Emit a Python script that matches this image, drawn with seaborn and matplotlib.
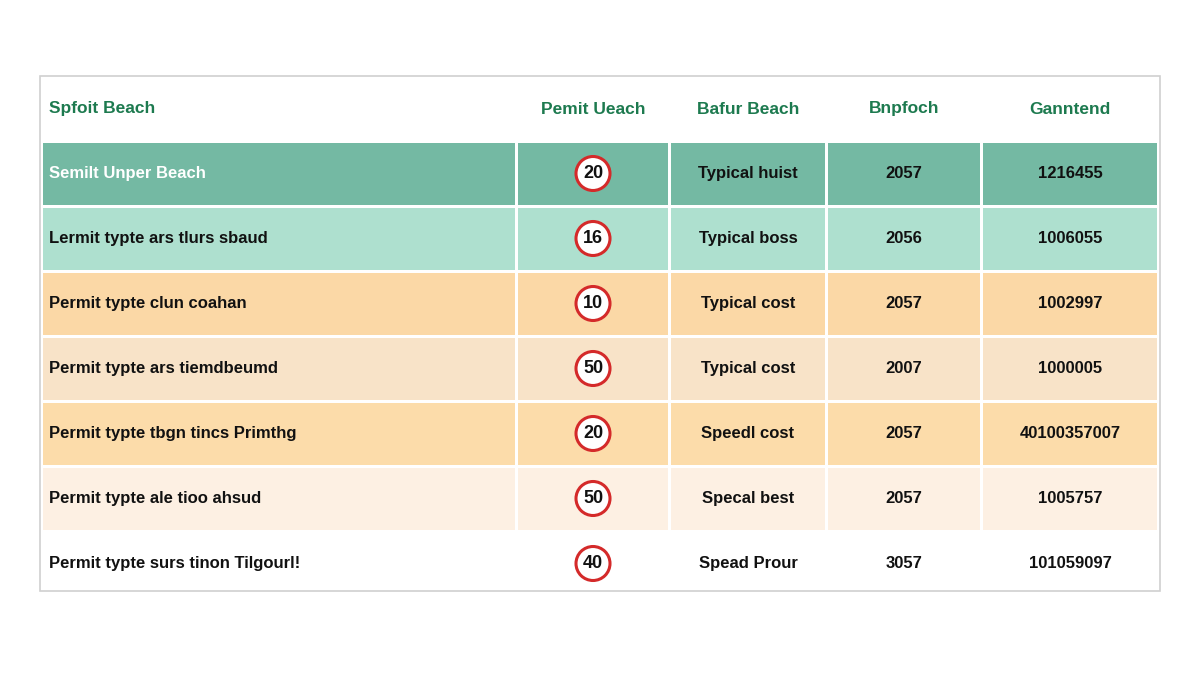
import matplotlib.pyplot as plt
import seaborn as sns
from matplotlib.patches import Circle

sns.set_theme(style="white")
plt.rcParams["font.family"] = ["Liberation Sans", "DejaVu Sans"]

headers = ["Spfoit Beach", "Pemit Ueach", "Bafur Beach", "Bnpfoch", "Ganntend"]
permit_types = ["Semilt Unper Beach", "Lermit typte ars tlurs sbaud", "Permit typte clun coahan",
                "Permit typte ars tiemdbeumd", "Permit typte tbgn tincs Primthg",
                "Permit typte ale tioo ahsud", "Permit typte surs tinon Tilgourl!"]
limits = ["20", "16", "10", "50", "20", "50", "40"]
cost_labels = ["Typical huist", "Typical boss", "Typical cost", "Typical cost",
               "Speedl cost", "Specal best", "Spead Prour"]
years = ["2057", "2056", "2057", "2007", "2057", "2057", "3057"]
totals = ["1216455", "1006055", "1002997", "1000005", "40100357007", "1005757", "101059097"]
row_colors = ["#74b9a3", "#aee0cf", "#fbd8a6", "#f8e3c8", "#fcdcaa", "#fdf0e3", "#ffffff"]

# column edges (px, relative to table box left)
col_left = [3, 478, 631, 788, 943]
col_right = [475, 628, 785, 940, 1117]
header_h = 65
row_h = 65

fig = plt.figure(figsize=(12, 6.75), dpi=100)
ax = fig.add_axes([40 / 1200, 84 / 675, 1120 / 1200, 515 / 675])
ax.set_xlim(0, 1120)
ax.set_ylim(515, 0)
ax.axis("off")
fig.patches.append(plt.Rectangle((40 / 1200, 84 / 675), 1120 / 1200, 515 / 675,
                                 transform=fig.transFigure, fill=False,
                                 edgecolor="#d0d0d0", lw=1.2))

green = "#1d7a4f"
centers = [(l + r) / 2 for l, r in zip(col_left, col_right)]
for j, h in enumerate(headers):
    if j == 0:
        ax.text(col_left[0] + 6, 33, h, color=green, fontsize=12.5, fontweight="bold", va="center")
    else:
        ax.text(centers[j], 33, h, color=green, fontsize=12.5, fontweight="bold", va="center", ha="center")

for i in range(len(permit_types)):
    top = header_h + i * row_h
    yc = top + row_h / 2
    for l, r in zip(col_left, col_right):
        ax.barh(yc, r - l, left=l, height=row_h - 3, color=row_colors[i], edgecolor="none")
    tcol = "white" if i == 0 else "#111111"
    ax.text(col_left[0] + 6, yc, permit_types[i], color=tcol, fontsize=12, fontweight="bold", va="center")
    ax.add_patch(Circle((centers[1], yc), 17, facecolor="white", edgecolor="#d42a2a", lw=2.2))
    ax.text(centers[1], yc, limits[i], fontsize=13, fontweight="bold", ha="center", va="center", color="#111")
    ax.text(centers[2], yc, cost_labels[i], fontsize=12, fontweight="bold", ha="center", va="center", color="#111")
    ax.text(centers[3], yc, years[i], fontsize=12, fontweight="bold", ha="center", va="center", color="#111")
    ax.text(centers[4], yc, totals[i], fontsize=12, fontweight="bold", ha="center", va="center", color="#111")

fig.savefig("out.png", dpi=100, facecolor="white")
